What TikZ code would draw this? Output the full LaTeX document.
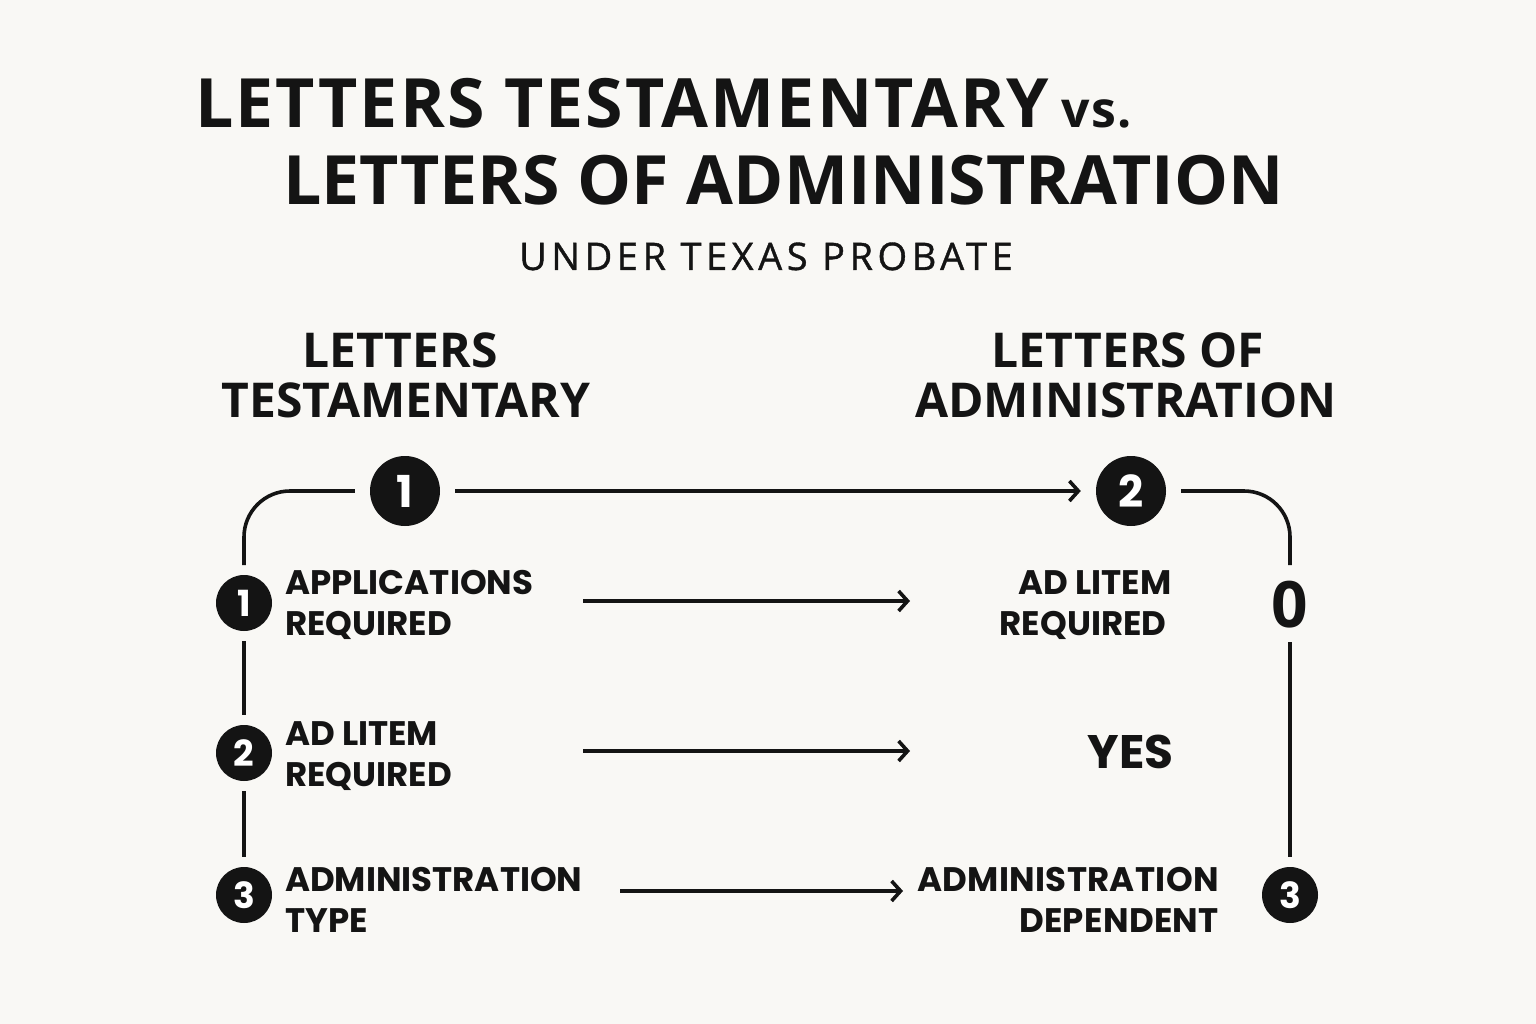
\documentclass[tikz,border=0pt]{standalone}
\usepackage{fontspec}
\setmainfont{Open Sans}
\newfontfamily\titlefont{Open Sans}
\newfontfamily\labfont{Poppins}
\usetikzlibrary{arrows.meta}
\definecolor{bg}{HTML}{F9F8F5}
\definecolor{ink}{HTML}{141414}
\tikzset{
  ttl/.style={font=\titlefont\bfseries\fontsize{68}{72}\selectfont, text=ink, inner sep=0pt},
  colhead/.style={font=\titlefont\bfseries\fontsize{48}{52}\selectfont, text=ink, inner sep=0pt},
  lab/.style={font=\labfont\bfseries\fontsize{34}{41}\selectfont, text=ink, inner sep=0pt, align=left},
  bigdot/.style={circle, fill=ink, minimum size=70pt, inner sep=0pt, text=white, font=\labfont\bfseries\fontsize{44}{44}\selectfont},
  smalldot/.style={circle, fill=ink, minimum size=56pt, inner sep=0pt, text=white, font=\labfont\bfseries\fontsize{36}{36}\selectfont},
  conn/.style={draw=ink, line width=3.6pt},
  arr/.style={conn, -{Straight Barb[length=9pt, width=20pt, line width=3.6pt]}},
}
\begin{document}
\begin{tikzpicture}[x=1pt,y=-1pt]
\fill[bg] (0,0) rectangle (1536,1024);
\useasboundingbox (0,0) rectangle (1536,1024);
% titles
\node[ttl, anchor=base west, font=\titlefont\bfseries\fontsize{68}{72}\selectfont\addfontfeatures{LetterSpace=3}] (t1) at (195,128) {LETTERS TESTAMENTARY\hspace{-8pt} {\fontsize{50}{50}\selectfont vs.}};
\node[ttl, anchor=base west] (t2) at (283,205) {LETTERS OF ADMINISTRATION};
\node[font=\titlefont\fontsize{38}{40}\selectfont\addfontfeatures{LetterSpace=12,FakeBold=1}, text=ink, inner sep=0pt, anchor=base] (sub) at (766,270) {UNDER TEXAS PROBATE};
% column heads
\node[colhead, anchor=base] (hl1) at (400,367) {LETTERS};
\node[colhead, anchor=base] (hl2) at (406,417) {TESTAMENTARY};
\node[colhead, anchor=base] (hr1) at (1128,367) {LETTERS OF};
\node[colhead, anchor=base] (hr2) at (1126,417) {ADMINISTRATION};
% big dots
\node[bigdot] (b1) at (405,491) {1};
\node[bigdot] (b2) at (1131,491) {2};
\draw[arr] ([xshift=15pt]b1.east) -- ([xshift=-15pt]b2.west);
% left column
\node[smalldot] (s1) at (244,603) {1};
\node[smalldot] (s2) at (244,753) {2};
\node[smalldot] (s3) at (244,895) {3};
\coordinate (lc) at (244,565);
\draw[conn] ([xshift=-15pt]b1.west) -- (290,491) arc[start angle=-90, end angle=-180, radius=46] -- (lc);
\draw[conn] ([yshift=-10pt]s1.south) -- ([yshift=10pt]s2.north);
\draw[conn] ([yshift=-10pt]s2.south) -- ([yshift=10pt]s3.north);
\node[lab, anchor=north west] (l1) at (285,570) {APPLICATIONS\\REQUIRED};
\node[lab, anchor=north west] (l2) at (285,721) {AD LITEM\\REQUIRED};
\node[lab, anchor=north west] (l3) at (285,867) {ADMINISTRATION\\TYPE};
% right column
\node[lab, anchor=north, align=center] (r1) at (1083,570) {\hspace*{24pt}AD LITEM\\REQUIRED};
\node[font=\labfont\bfseries\fontsize{47}{47}\selectfont, text=ink, inner sep=0pt, anchor=base east] (r2) at (1174,768) {YES};
\node[lab, anchor=north east, align=right, font=\labfont\bfseries\fontsize{34}{41}\selectfont\addfontfeatures{LetterSpace=1}] (r3) at (1219,867) {ADMINISTRATION\\DEPENDENT};
\node[font=\titlefont\bfseries\fontsize{64}{64}\selectfont, text=ink, inner sep=0pt] (zero) at (1290,605) {0};
\node[smalldot] (s4) at (1290,895) {3};
\coordinate (rc) at (1290,565);
\draw[conn] ([xshift=15pt]b2.east) -- (1244,491) arc[start angle=-90, end angle=0, radius=46] -- (rc);
\draw[conn] (1290,642) -- ([yshift=10pt]s4.north);
% arrows
\coordinate (p1) at (583,601); \coordinate (q1) at (910,601);
\coordinate (p2) at (583,751); \coordinate (q2) at (910,751);
\coordinate (p3) at (620,891); \coordinate (q3) at (903,891);
\draw[arr] (p1) -- (q1);
\draw[arr] (p2) -- (q2);
\draw[arr] (p3) -- (q3);
\end{tikzpicture}
\end{document}
